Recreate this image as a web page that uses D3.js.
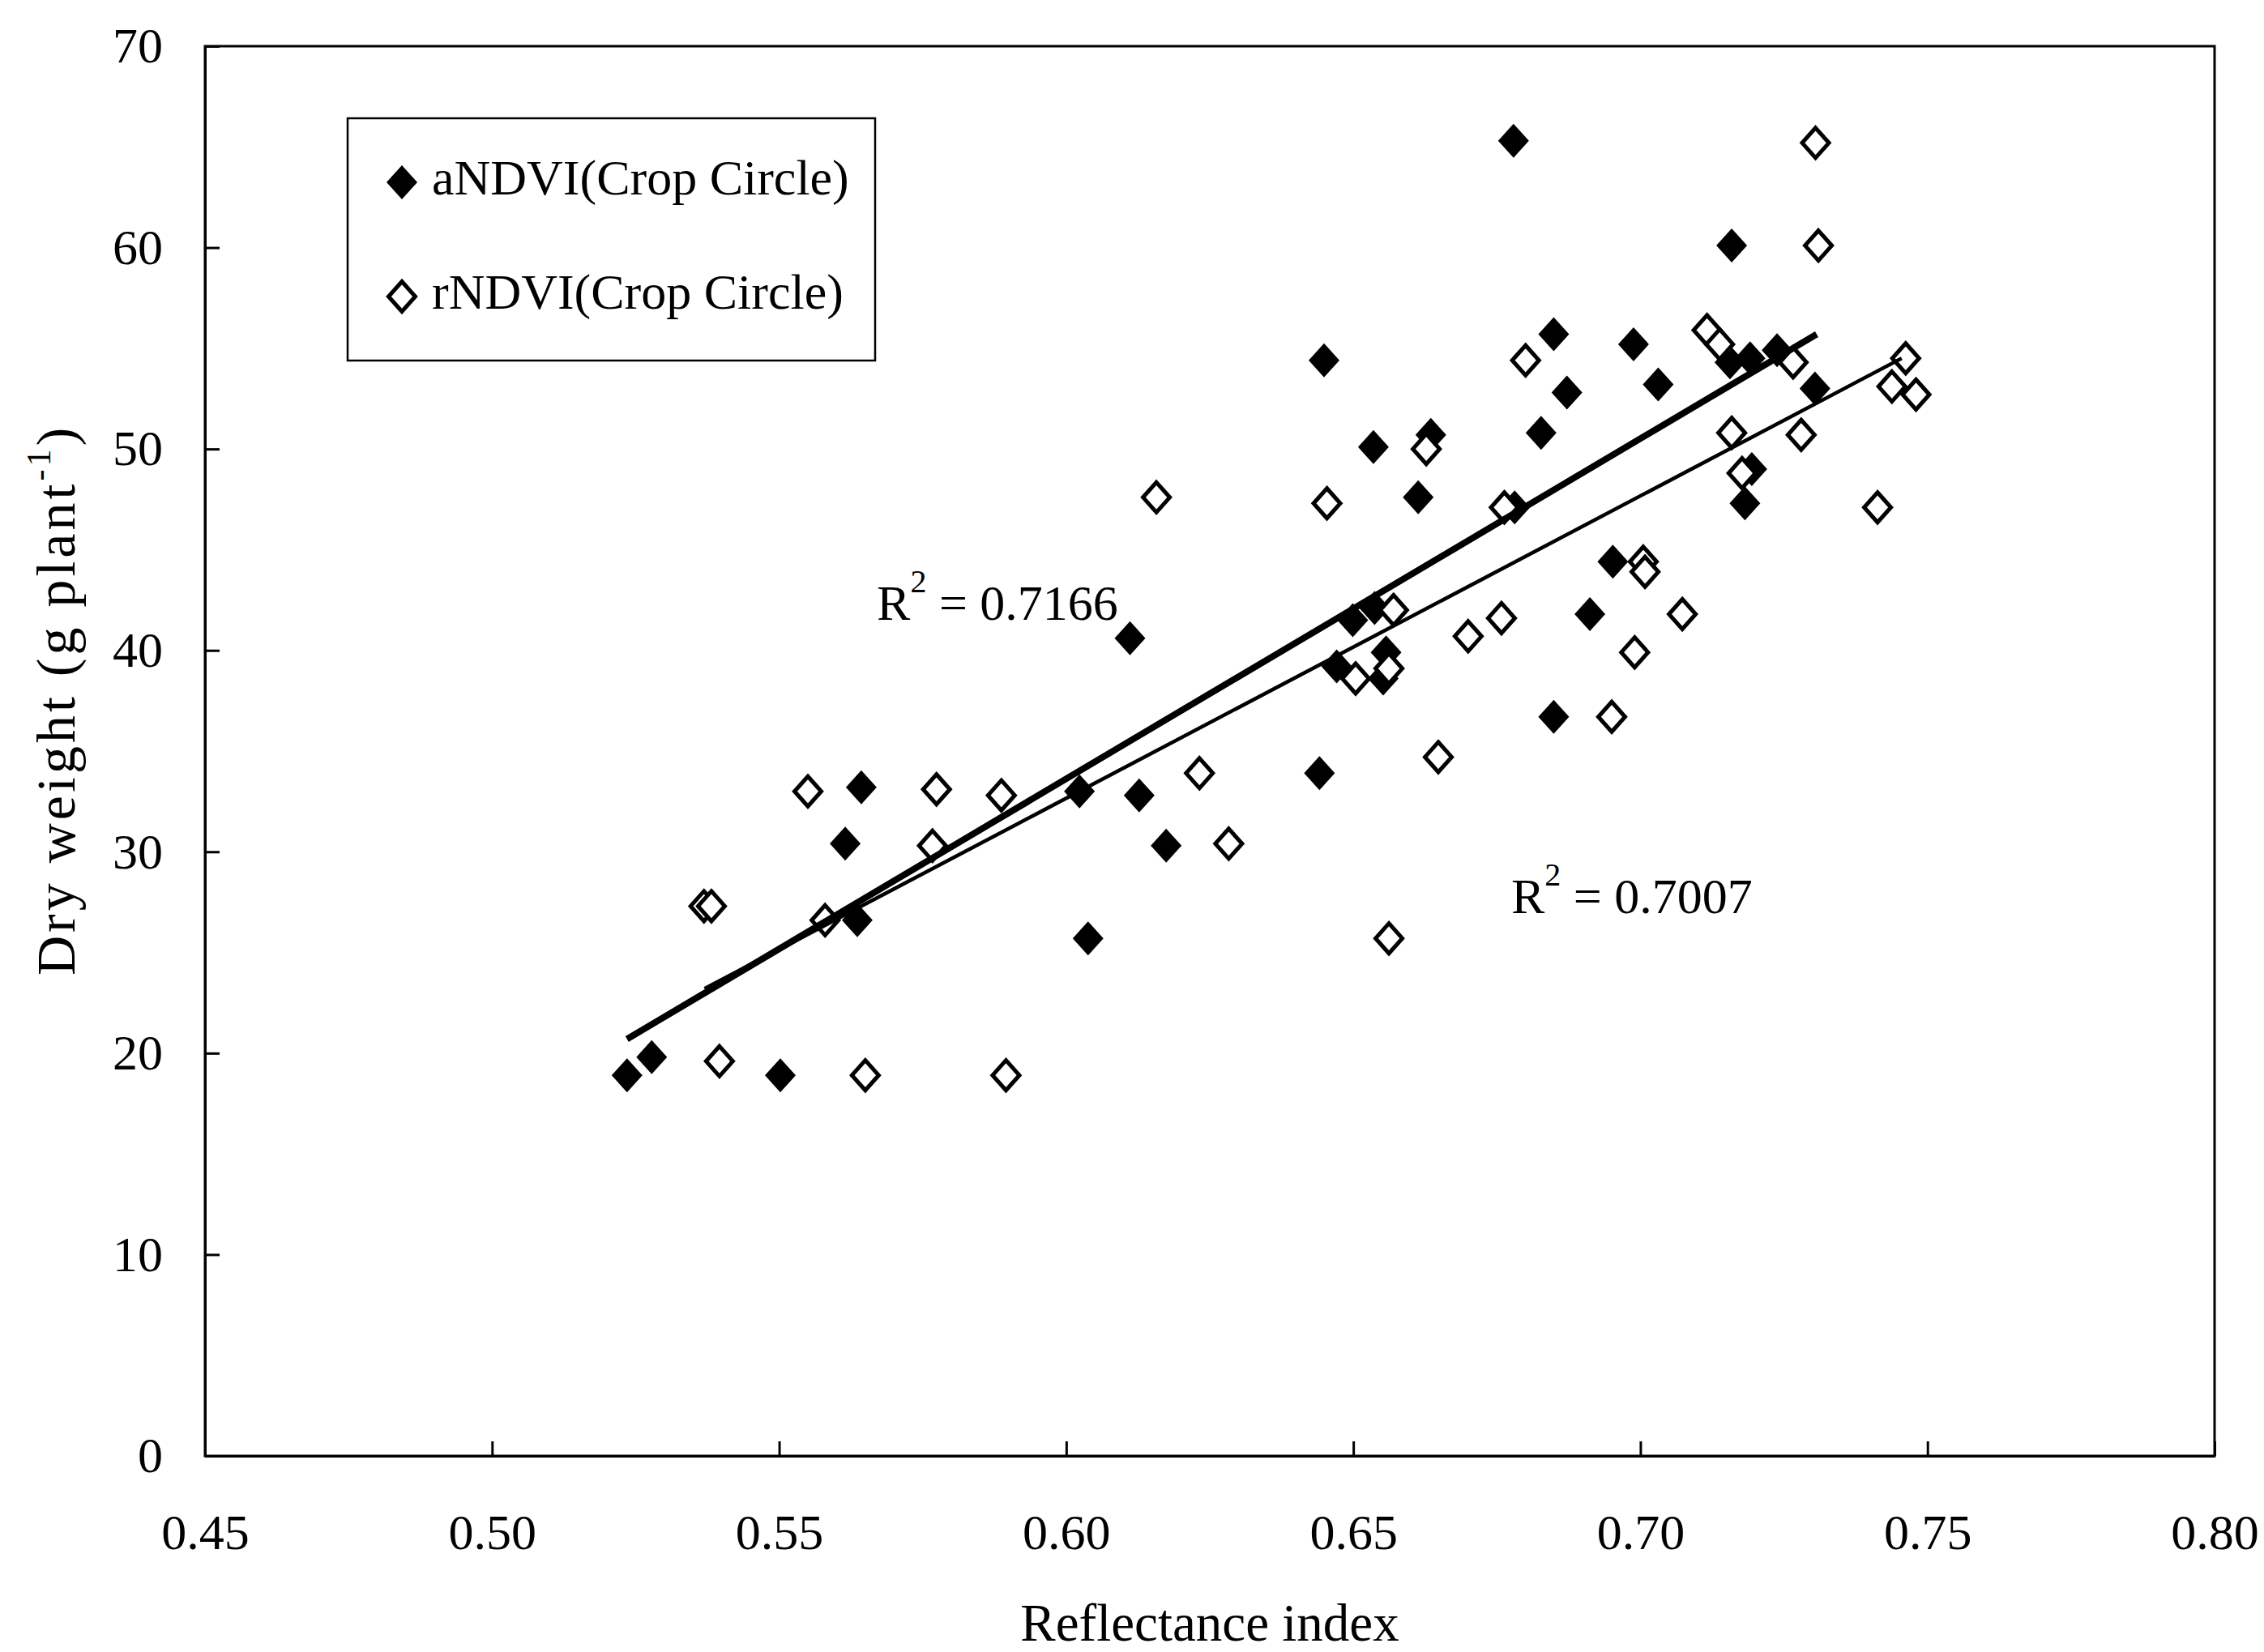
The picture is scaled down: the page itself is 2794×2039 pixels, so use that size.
<!DOCTYPE html>
<html>
<head>
<meta charset="utf-8">
<script src="https://cdn.jsdelivr.net/npm/d3@7"></script>
<style>
  html, body { margin: 0; padding: 0; background: #fff; }
  svg text { font-family: "Liberation Serif", "Times New Roman", serif; fill: #000; }
</style>
</head>
<body>
<div id="chart"></div>
<script>
// aNDVI (Crop Circle) - filled diamonds
const aX = [0.5235, 0.5278, 0.5502, 0.5615, 0.5643, 0.5636, 0.6023, 0.6038, 0.6111, 0.6127,
            0.6174, 0.6441, 0.6449, 0.6471, 0.6499, 0.6535, 0.6537, 0.6552, 0.6557, 0.6613,
            0.6635, 0.6779, 0.6827, 0.6849, 0.6849, 0.6872, 0.6912, 0.6952, 0.6988, 0.7031,
            0.7159, 0.7156, 0.7182, 0.7191, 0.7238, 0.7304, 0.7194, 0.6781];
const aY = [18.9, 19.8, 18.9, 30.4, 33.2, 26.6, 33.0, 25.7, 40.6, 32.8,
            30.3, 33.9, 54.4, 39.2, 41.5, 50.1, 42.1, 38.6, 39.9, 47.6,
            50.7, 65.3, 50.8, 55.7, 36.7, 52.8, 41.8, 44.4, 55.2, 53.2,
            60.1, 54.3, 47.3, 54.5, 54.9, 53.0, 49.0, 47.1];

// rNDVI (Crop Circle) - open diamonds
const rX = [0.5369, 0.5382, 0.5396, 0.5550, 0.5580, 0.5650, 0.5767, 0.5774, 0.5887, 0.5895,
            0.6157, 0.6232, 0.6283, 0.6454, 0.6504, 0.6562, 0.6570, 0.6562, 0.6648, 0.6627,
            0.6700, 0.6758, 0.6763, 0.6800, 0.6950, 0.6990, 0.7005, 0.7008, 0.7073, 0.7116,
            0.7138, 0.7159, 0.7177, 0.7266, 0.7280, 0.7305, 0.7310, 0.7413, 0.7438, 0.7462, 0.7480];
const rY = [27.3, 27.3, 19.6, 33.0, 26.6, 18.9, 30.3, 33.1, 32.8, 18.9,
            47.6, 33.9, 30.4, 47.3, 38.6, 39.1, 42.0, 25.7, 34.7, 50.0,
            40.7, 41.6, 47.1, 54.4, 36.7, 39.9, 44.4, 43.9, 41.8, 55.9,
            55.2, 50.8, 48.8, 54.3, 50.7, 65.2, 60.1, 47.1, 53.1, 54.5, 52.7];

// linear trend lines as drawn (start / end)
const aFitX = [0.5235, 0.7307];
const aFitY = [20.7, 55.7];
const rFitX = [0.5370, 0.7455];
const rFitY = [23.2, 54.5];

const xTicks = [0.45, 0.50, 0.55, 0.60, 0.65, 0.70, 0.75, 0.80];
const yTicks = [0, 10, 20, 30, 40, 50, 60, 70];
const seriesNames = ["aNDVI(Crop Circle)", "rNDVI(Crop Circle)"];
const r2Labels = [{x: 0.567, y: 41.5, v: "0.7166"}, {x: 0.6775, y: 26.95, v: "0.7007"}];

const width = 2794, height = 2039;
const margin = {top: 57, right: 61, bottom: 242, left: 253};
const iw = width - margin.left - margin.right;
const ih = height - margin.top - margin.bottom;

const svg = d3.select("#chart").append("svg")
  .attr("width", width).attr("height", height);
const g = svg.append("g").attr("transform", `translate(${margin.left},${margin.top})`);

const x = d3.scaleLinear().domain([0.45, 0.80]).range([0, iw]);
const y = d3.scaleLinear().domain([0, 70]).range([ih, 0]);

// axes, ticks pointing inward
const xAxis = d3.axisBottom(x).tickValues(xTicks).tickFormat(d3.format(".2f"))
  .tickSizeInner(-18).tickSizeOuter(0).tickPadding(71);
const yAxis = d3.axisLeft(y).tickValues(yTicks).tickFormat(d3.format("d"))
  .tickSizeInner(-18).tickSizeOuter(0).tickPadding(52);

const gx = g.append("g").attr("transform", `translate(0,${ih})`).call(xAxis);
const gy = g.append("g").call(yAxis);
[gx, gy].forEach(a => {
  a.selectAll("path, line").attr("stroke", "#000").attr("stroke-width", 3);
  a.selectAll("text").attr("font-size", 62).attr("font-family", "Liberation Serif");
});

// frame
g.append("rect").attr("width", iw).attr("height", ih)
  .attr("fill", "none").attr("stroke", "#000").attr("stroke-width", 3);

// diamond marker, a bit taller than wide
const diamond = (w, h) => ({
  draw(ctx) {
    ctx.moveTo(0, -h); ctx.lineTo(w, 0); ctx.lineTo(0, h); ctx.lineTo(-w, 0); ctx.closePath();
  }
});
const filledSym = d3.symbol(diamond(19, 21));
const openSym = d3.symbol(diamond(16.5, 18.5));

const aData = aX.map((v, i) => ({x: v, y: aY[i]}));
const rData = rX.map((v, i) => ({x: v, y: rY[i]}));

g.append("g").selectAll("path").data(aData).join("path")
  .attr("d", filledSym)
  .attr("transform", d => `translate(${x(d.x)},${y(d.y)})`)
  .attr("fill", "#000");

g.append("g").selectAll("path").data(rData).join("path")
  .attr("d", openSym)
  .attr("transform", d => `translate(${x(d.x)},${y(d.y)})`)
  .attr("fill", "#fff").attr("stroke", "#000").attr("stroke-width", 5);

// trend lines
const line = d3.line().x(d => x(d[0])).y(d => y(d[1]));
g.append("path").datum(aFitX.map((v, i) => [v, aFitY[i]]))
  .attr("d", line).attr("fill", "none").attr("stroke", "#000").attr("stroke-width", 8);
g.append("path").datum(rFitX.map((v, i) => [v, rFitY[i]]))
  .attr("d", line).attr("fill", "none").attr("stroke", "#000").attr("stroke-width", 4.5);

// R² annotations
r2Labels.forEach(l => {
  const t = g.append("text").attr("x", x(l.x)).attr("y", y(l.y)).attr("font-size", 62);
  t.append("tspan").text("R");
  t.append("tspan").attr("font-size", 40).attr("dy", -34).text("2");
  t.append("tspan").attr("dy", 34).text(" = " + l.v);
});

// legend
const lg = svg.append("g");
lg.append("rect").attr("x", 429).attr("y", 146).attr("width", 651).attr("height", 299)
  .attr("fill", "#fff").attr("stroke", "#000").attr("stroke-width", 2.5);
const legendRows = [{sym: filledSym, fill: "#000", sw: 0, cy: 225},
                    {sym: openSym, fill: "#fff", sw: 5, cy: 366}];
legendRows.forEach((r, i) => {
  lg.append("path").attr("d", r.sym)
    .attr("transform", `translate(496,${r.cy})`)
    .attr("fill", r.fill).attr("stroke", "#000").attr("stroke-width", r.sw);
  lg.append("text").attr("x", 533).attr("y", r.cy + 15)
    .attr("font-size", 62).text(seriesNames[i]);
});

// axis titles
svg.append("text").attr("x", margin.left + iw / 2).attr("y", 2025)
  .attr("text-anchor", "middle").attr("font-size", 65).text("Reflectance index");

const yt = svg.append("text").attr("transform", "translate(92,864) rotate(-90)")
  .attr("text-anchor", "middle").attr("font-size", 68).attr("letter-spacing", 4);
yt.append("tspan").text("Dry weight (g plant");
yt.append("tspan").attr("font-size", 42).attr("dy", -30).text("-1");
yt.append("tspan").attr("dy", 30).text(")");
</script>
</body>
</html>
